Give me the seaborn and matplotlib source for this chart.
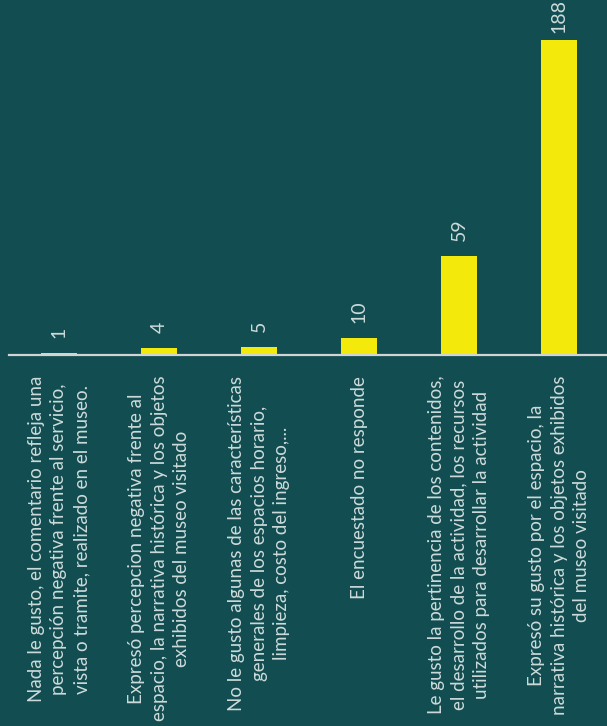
import matplotlib
matplotlib.use("Agg")
import matplotlib.pyplot as plt
import seaborn as sns
import pandas as pd

categories = [
    "Nada le gusto, el comentario refleja una\npercepción negativa frente al servicio,\nvista o tramite, realizado en el museo.",
    "Expresó percepcion negativa frente al\nespacio, la narrativa histórica y los objetos\nexhibidos del museo visitado",
    "No le gusto algunas de las características\ngenerales de los espacios horario,\nlimpieza, costo del ingreso,...",
    "El encuestado no responde",
    "Le gusto la pertinencia de los contenidos,\nel desarrollo de la actividad, los recursos\nutilizados para desarrollar la actividad",
    "Expresó su gusto por el espacio, la\nnarrativa histórica y los objetos exhibidos\ndel museo visitado",
]
values = [1, 4, 5, 10, 59, 188]

BG = "#124e51"
BAR = "#f3e90a"
TXT = "#cddada"

sns.set_theme(style="white")
plt.rcParams["font.family"] = ["Lato", "DejaVu Sans"]

df = pd.DataFrame({"categoria": categories, "valor": values})

fig = plt.figure(figsize=(6.07, 7.26), dpi=100, facecolor=BG)
ax = fig.add_axes([9 / 607, 1 - 355 / 726, 600 / 607, 355 / 726])
ax.set_facecolor(BG)

sns.barplot(data=df, x="categoria", y="valor", color=BAR, width=0.36,
            saturation=1, ax=ax, edgecolor="none")

ymax = 355 / 1.676
ax.set_xlim(-0.5, 5.5)
ax.set_ylim(0, ymax)

for s in ["top", "right", "left"]:
    ax.spines[s].set_visible(False)
ax.spines["bottom"].set_color("#d0d4d4")
ax.spines["bottom"].set_linewidth(1.6)

ax.set_yticks([])
ax.set_xlabel("")
ax.set_ylabel("")
ax.tick_params(axis="x", length=0, pad=15)
ax.set_xticks(range(len(categories)))
ax.set_xticklabels(categories, rotation=90, color=TXT, fontsize=13.5,
                   fontweight="normal", linespacing=1.4,
                   multialignment="center")

# value labels above each bar, kept inside the figure
px = ymax / 355.0
for i, v in enumerate(values):
    y = min(v + 15 * px, ymax - 33 * px)
    ax.text(i, y, str(v), rotation=90, ha="center", va="bottom",
            color=TXT, fontsize=14, fontweight="normal", clip_on=False)

fig.savefig("out.png", dpi=100, facecolor=BG)
